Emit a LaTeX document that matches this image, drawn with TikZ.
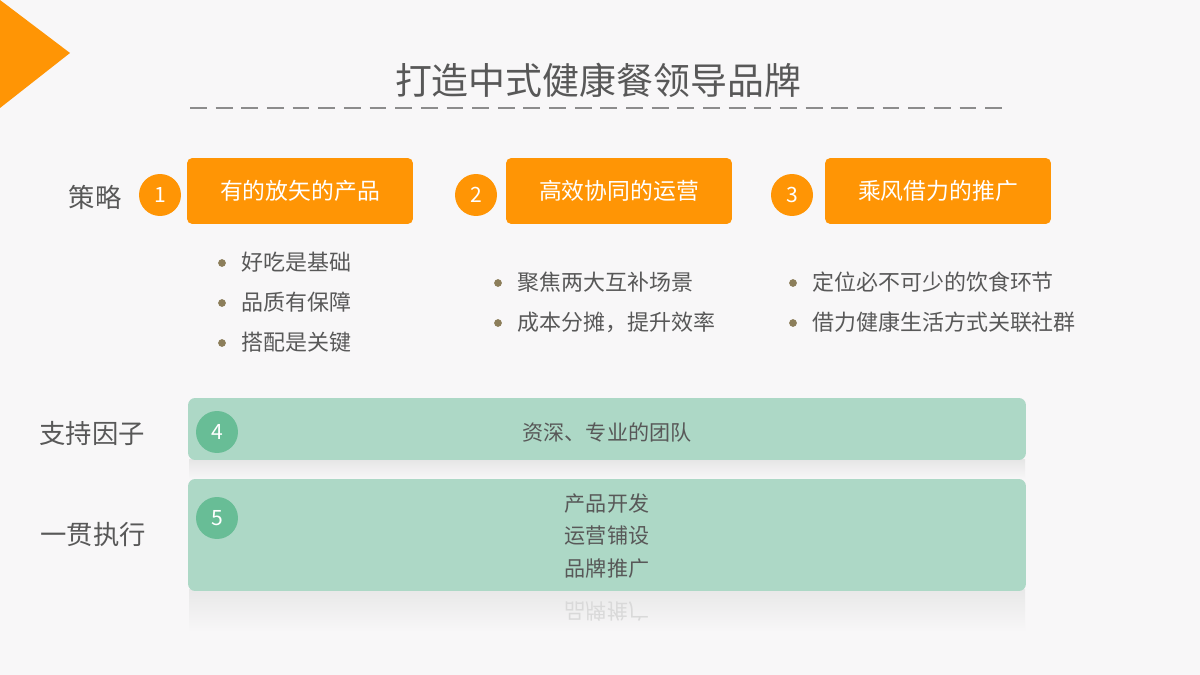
\documentclass[tikz,border=0pt]{standalone}
\usepackage{fontspec}
\setmainfont{Noto Sans CJK SC}
\usetikzlibrary{arrows.meta}
\definecolor{bgcol}{RGB}{248,247,248}
\definecolor{orangecol}{RGB}{255,149,5}
\definecolor{greenbox}{RGB}{173,216,198}
\definecolor{greencirc}{RGB}{104,189,150}
\definecolor{textgray}{RGB}{88,88,88}
\definecolor{dotcol}{RGB}{140,126,90}
\begin{document}
\begin{tikzpicture}[x=0.02cm, y=-0.02cm,
    obox/.style={fill=orangecol, rounded corners=3pt, text=white, font=\fontsize{13}{15}\selectfont,
      minimum width=4.52cm, minimum height=1.32cm, inner sep=0pt},
    gbox/.style={fill=greenbox, rounded corners=4pt, minimum width=16.76cm, inner sep=0pt},
    onum/.style={circle, fill=orangecol, text=white, minimum size=0.84cm, inner sep=0pt, font=\fontsize{12}{14}\selectfont},
    gnum/.style={circle, fill=greencirc, text=white, minimum size=0.84cm, inner sep=0pt, font=\fontsize{12}{14}\selectfont},
    rowlabel/.style={text=textgray, font=\fontsize{15}{17}\selectfont},
    item/.style={anchor=west, text=textgray, font=\fontsize{12.5}{14}\selectfont, inner sep=0pt},
    bodytext/.style={text=textgray, font=\fontsize{12}{18.7}\selectfont}]
    \useasboundingbox (0,0) rectangle (1200,675);
    \fill [bgcol] (0,0) rectangle (1200,675);
    % corner mark and title
    \fill [orangecol] (0,0) -- (70,53) -- (0,108) -- cycle;
    \node (title) at (598,80) [text=textgray, font=\fontsize{21}{24}\selectfont] {打造中式健康餐领导品牌};
    \coordinate (L) at (190,108);
    \coordinate (R) at (1010,108);
    \draw [black!45, line width=1.5pt, dash pattern=on 9.6pt off 5pt] (L) -- (R);
    % strategy row
    \node (strategy) at (95,197) [rowlabel] {策略};
    \node (n1) at (160,195) [onum] {1};
    \node (s1) at (300,191) [obox] {有的放矢的产品};
    \node (n2) at (476,195) [onum] {2};
    \node (s2) at (619,191) [obox] {高效协同的运营};
    \node (n3) at (792,195) [onum] {3};
    \node (s3) at (938,191) [obox] {乘风借力的推广};
    % bullet points
    \draw [fill=dotcol, draw=none] (222,263) circle (2.2pt);
    \node (a1) at (241,262) [item] {好吃是基础};
    \draw [fill=dotcol, draw=none] (222,303) circle (2.2pt);
    \node (a2) at (241,302) [item] {品质有保障};
    \draw [fill=dotcol, draw=none] (222,343) circle (2.2pt);
    \node (a3) at (241,342) [item] {搭配是关键};
    \draw [fill=dotcol, draw=none] (498,283) circle (2.2pt);
    \node (b1) at (517,282) [item] {聚焦两大互补场景};
    \draw [fill=dotcol, draw=none] (498,323) circle (2.2pt);
    \node (b2) at (517,322) [item] {成本分摊，提升效率};
    \draw [fill=dotcol, draw=none] (793,283) circle (2.2pt);
    \node (c1) at (812,282) [item] {定位必不可少的饮食环节};
    \draw [fill=dotcol, draw=none] (793,323) circle (2.2pt);
    \node (c2) at (812,322) [item] {借力健康生活方式关联社群};
    % support row
    \node (support) at (92,433) [rowlabel] {支持因子};
    \shade [top color=black!10, bottom color=bgcol] (189,459) rectangle (1025,479);
    \node (g4) at (607,429) [gbox, minimum height=1.24cm] {};
    \node (n4) at (217,432) [gnum] {4};
    \node (t4) at (607,432) [bodytext] {资深、专业的团队};
    % execution row
    \node (execute) at (93,535) [rowlabel] {一贯执行};
    \shade [top color=black!9, bottom color=bgcol] (189,589) rectangle (1025,632);
    \node (r5) at (607,611) [bodytext, text=black!15, yscale=-1, transform shape] {品牌推广};
    \node (g5) at (607,535) [gbox, minimum height=2.24cm] {};
    \node (n5) at (217,518) [gnum] {5};
    \node (t5) at (607,536) [bodytext, align=center] {产品开发\\运营铺设\\品牌推广};
\end{tikzpicture}
\end{document}
